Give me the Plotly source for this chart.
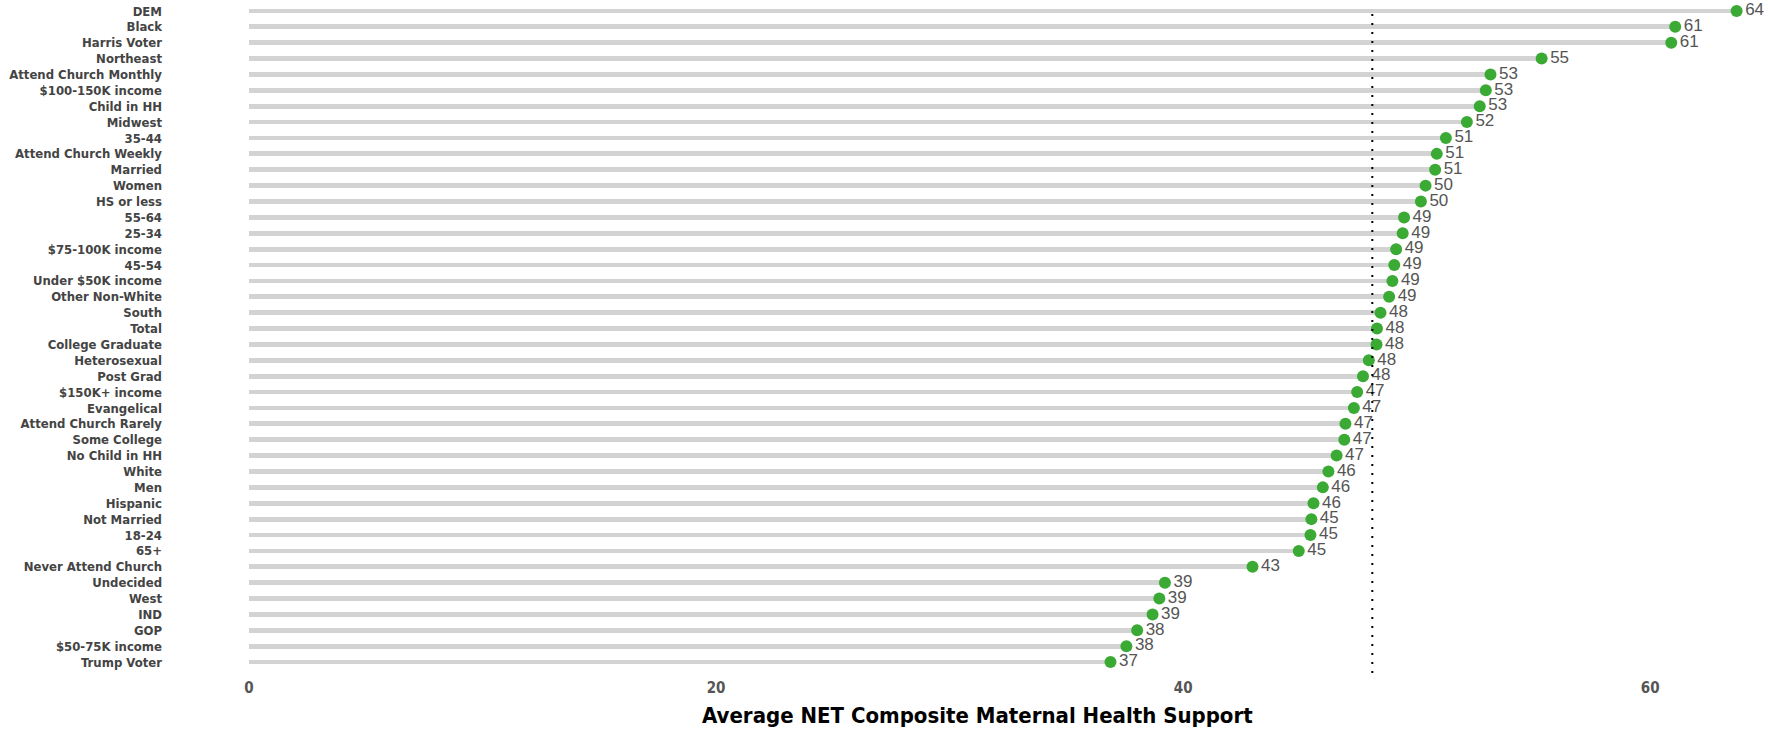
import plotly.graph_objects as go

categories = ["DEM", "Black", "Harris Voter", "Northeast", "Attend Church Monthly",
              "$100-150K income", "Child in HH", "Midwest", "35-44", "Attend Church Weekly",
              "Married", "Women", "HS or less", "55-64", "25-34", "$75-100K income", "45-54",
              "Under $50K income", "Other Non-White", "South", "Total", "College Graduate",
              "Heterosexual", "Post Grad", "$150K+ income", "Evangelical", "Attend Church Rarely",
              "Some College", "No Child in HH", "White", "Men", "Hispanic", "Not Married",
              "18-24", "65+", "Never Attend Church", "Undecided", "West", "IND", "GOP",
              "$50-75K income", "Trump Voter"]

values = [63.7, 61.07, 60.9, 55.35, 53.16, 52.96, 52.7, 52.15, 51.25, 50.86,
          50.79, 50.38, 50.18, 49.46, 49.4, 49.12, 49.04, 48.96, 48.82, 48.45,
          48.3, 48.28, 47.95, 47.7, 47.45, 47.31, 46.95, 46.9, 46.57, 46.22,
          45.98, 45.58, 45.49, 45.45, 44.95, 42.97, 39.22, 38.98, 38.69, 38.03,
          37.57, 36.89]

labels = [str(int(round(v))) for v in values]
total_reference = 48.1
x_ticks = [0, 20, 40, 60]
x_title = "Average NET Composite Maternal Health Support"

W, H = 1768, 730
ML, MR, MT, MB = 249, 1, 3, 60
plot_h = H - MT - MB
plot_w = W - ML - MR

fig = go.Figure()
fig.add_trace(go.Bar(
    x=values, y=categories, orientation="h", width=0.3,
    marker=dict(color="#d3d3d3", line=dict(width=0)), hoverinfo="skip",
    cliponaxis=False,
))
fig.add_trace(go.Scatter(
    x=values, y=categories, mode="markers+text", text=labels,
    textposition="middle right",
    marker=dict(size=12, color="#3aaa35"),
    textfont=dict(family="Liberation Sans", size=17, color="#555555"),
    cliponaxis=False,
))
fig.add_shape(type="line", x0=total_reference, x1=total_reference, xref="x",
              y0=(H - MB - 673) / plot_h, y1=(H - MB - 9) / plot_h, yref="paper",
              line=dict(color="black", width=2, dash="2px,7px"))

fig.add_annotation(text=x_title, xref="paper", yref="paper",
                   x=(977 - ML) / plot_w,
                   y=-(715 - (H - MB)) / plot_h, xanchor="center", yanchor="middle",
                   showarrow=False,
                   font=dict(family="DejaVu Sans Condensed", size=22, color="black", weight="bold"))

fig.update_layout(
    width=W, height=H, showlegend=False, bargap=0,
    margin=dict(l=ML, r=MR, t=MT, b=MB, autoexpand=False),
    plot_bgcolor="white", paper_bgcolor="white",
    xaxis=dict(range=[0, 65], tickvals=x_ticks, showgrid=False, zeroline=False,
               showline=False, ticks="", ticklabelstandoff=7, automargin=False,
               tickfont=dict(family="DejaVu Sans Condensed", size=15, color="#555555", weight="bold")),
    yaxis=dict(categoryorder="array", categoryarray=categories, tickmode="array",
               tickvals=categories, autorange=False,
               range=[len(categories) - 0.5, -0.5], showgrid=False, zeroline=False, showline=False,
               ticks="", ticklabelstandoff=86, automargin=False,
               tickfont=dict(family="DejaVu Sans Condensed", size=13, color="#444444", weight="bold")),
)

fig.write_html("out.html", config={"displayModeBar": False},
               post_script="document.body.style.margin='0';document.body.style.overflow='hidden';")
